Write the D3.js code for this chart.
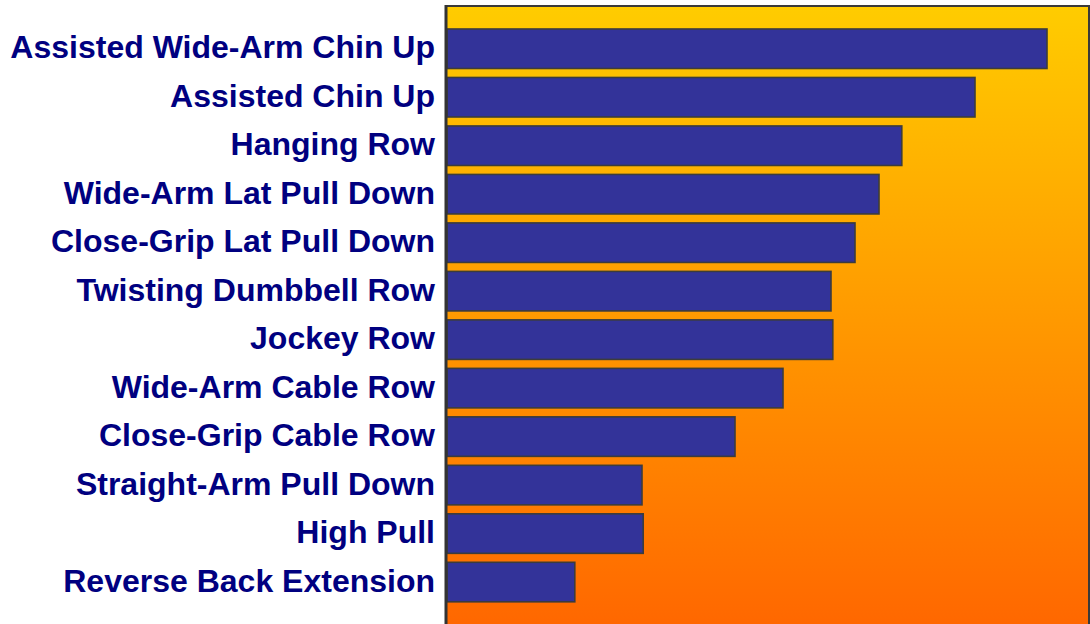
<!DOCTYPE html>
<html>
<head>
<meta charset="utf-8">
<script src="https://cdn.jsdelivr.net/npm/d3@7"></script>
<style>
  html, body { margin: 0; padding: 0; background: #fff; }
  svg { display: block; }
</style>
</head>
<body>
<svg id="chart" width="1090" height="624"></svg>
<script>
const exercises = [
  'Assisted Wide-Arm Chin Up',
  'Assisted Chin Up',
  'Hanging Row',
  'Wide-Arm Lat Pull Down',
  'Close-Grip Lat Pull Down',
  'Twisting Dumbbell Row',
  'Jockey Row',
  'Wide-Arm Cable Row',
  'Close-Grip Cable Row',
  'Straight-Arm Pull Down',
  'High Pull',
  'Reverse Back Extension'
]
const scores = [100, 88, 75.8, 72, 68, 64, 64.3, 56, 48, 32.5, 32.7, 21.3]

const width = 1090
const height = 624
const margin = {left: 447, top: 6}

const svg = d3.select('#chart')

const grad = svg.append('defs').append('linearGradient')
    .attr('id', 'bg')
    .attr('x1', 0).attr('y1', 0).attr('x2', 0).attr('y2', 1)
grad.append('stop').attr('offset', '0%').attr('stop-color', '#ffcc00')
grad.append('stop').attr('offset', '100%').attr('stop-color', '#ff6400')

const xScale = d3.scaleLinear().domain([0, 100]).range([margin.left, 1047])
const yScale = d3.scaleBand().domain(exercises).range([24.5, 606.3])
    .paddingInner(0.185).paddingOuter(0.0925)

// plot background
svg.append('rect')
    .attr('x', 446)
    .attr('y', 6)
    .attr('width', 643)
    .attr('height', 640)
    .attr('fill', 'url(#bg)')
    .attr('stroke', '#3a3a3a')
    .attr('stroke-width', 2)

svg.append('g')
    .selectAll()
    .data(exercises)
    .enter()
    .append('rect')
    .attr('x', xScale(0))
    .attr('y', (d) => yScale(d))
    .attr('width', (d, i) => xScale(scores[i]) - xScale(0))
    .attr('height', yScale.bandwidth())
    .attr('fill', '#333399')
    .attr('stroke', '#3c3c3c')
    .attr('stroke-width', 1.6)

// left axis
svg.append('g')
    .attr('transform', `translate(${margin.left - 1},0)`)
    .call(d3.axisLeft(yScale).tickSize(0).tickPadding(11))
    .call(g => g.select('.domain').remove())
    .selectAll('text')
    .attr('font-family', '"Liberation Sans", Arial, sans-serif')
    .attr('font-weight', 'bold')
    .attr('font-size', 32)
    .attr('fill', '#000080')
    .attr('dy', '0.3em')

svg.append('line')
    .attr('x1', 446).attr('x2', 446)
    .attr('y1', 5).attr('y2', height)
    .attr('stroke', '#333')
    .attr('stroke-width', 3)
</script>
</body>
</html>
